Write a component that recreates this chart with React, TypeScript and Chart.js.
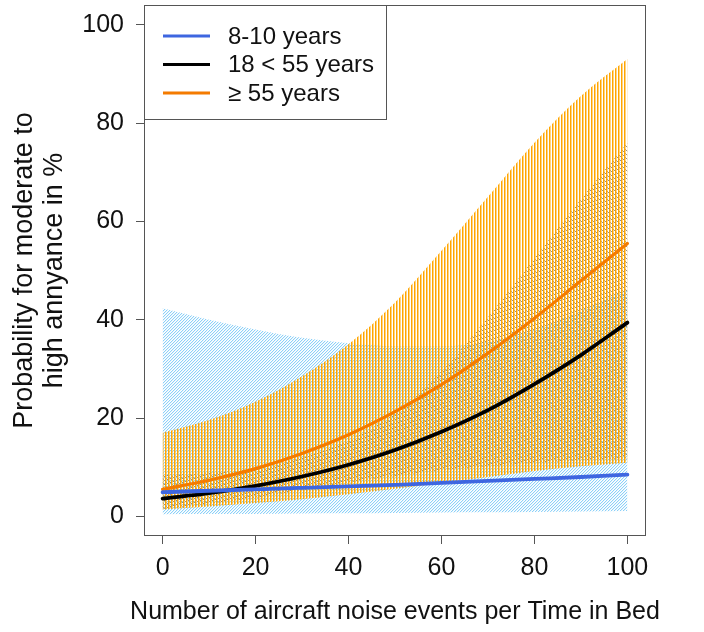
import React, { useEffect, useRef } from "react";
import { Chart, registerables } from "chart.js";

Chart.register(...registerables);

// ---------- data ----------
const X_VALUES = [0, 10, 20, 30, 40, 50, 60, 70, 80, 90, 100];

const BLUE_MEAN = [4.9, 5.2, 5.5, 5.8, 6.1, 6.4, 6.8, 7.2, 7.6, 8.0, 8.5];
const BLUE_UPPER = [42.3, 40.0, 38.0, 36.3, 35.2, 34.6, 34.6, 35.5, 38.0, 41.8, 46.3];
const BLUE_LOWER = [0.4, 0.45, 0.5, 0.6, 0.65, 0.7, 0.8, 0.85, 0.9, 1.0, 1.1];

const BLACK_MEAN = [3.6, 4.7, 6.2, 8.1, 10.5, 13.5, 17.2, 21.6, 26.9, 32.8, 39.4];
const BLACK_UPPER = [8.4, 8.8, 9.8, 12.0, 15.4, 21.0, 29.5, 40.5, 52.5, 64.5, 76.0];
const BLACK_LOWER = [1.5, 2.6, 3.8, 5.3, 6.9, 8.2, 9.4, 10.2, 10.9, 11.4, 11.8];

const ORANGE_MEAN = [5.5, 7.35, 9.7, 12.8, 16.6, 21.3, 26.8, 33.2, 40.3, 47.9, 55.5];
const ORANGE_UPPER = [17.0, 19.6, 23.3, 28.5, 35.0, 43.5, 54.0, 65.0, 76.0, 85.5, 93.0];
const ORANGE_LOWER = [1.4, 2.0, 2.7, 3.5, 4.5, 5.6, 6.8, 8.0, 9.2, 10.2, 10.9];

const X_TICKS = [0, 20, 40, 60, 80, 100];
const Y_TICKS = [0, 20, 40, 60, 80, 100];
const LEGEND_LABELS = ["8-10 years", "18 < 55 years", "\u2265 55 years"];
const X_TITLE = "Number of aircraft noise events per Time in Bed";
const Y_TITLE = ["Probability for moderate to", "high annyance in %"];

// ---------- styles ----------
const FONT = "'Liberation Sans', Arial, Helvetica, sans-serif";
const BLUE = "#3E66E0";
const BLACK = "#000000";
const ORANGE = "#F47B00";
const FRAME = "#555555";
const TEXT = "#111111";

Chart.defaults.font.family = FONT;

type Px = [number, number, number, number, number, number];

function makePattern(w: number, h: number, pixels: Px[]): CanvasPattern | string {
  const tile = document.createElement("canvas");
  tile.width = w;
  tile.height = h;
  const tctx = tile.getContext("2d");
  if (!tctx) return "transparent";
  const img = tctx.createImageData(w, h);
  for (const [x, y, r, g, b, a] of pixels) {
    const i = (y * w + x) * 4;
    img.data[i] = r;
    img.data[i + 1] = g;
    img.data[i + 2] = b;
    img.data[i + 3] = a;
  }
  tctx.putImageData(img, 0, 0);
  const main = document.createElement("canvas").getContext("2d");
  return (main && main.createPattern(tile, "repeat")) || "transparent";
}

function bluePattern() {
  const px: Px[] = [];
  const n = 3;
  for (let i = 0; i < n; i++) {
    px.push([i, n - 1 - i, 140, 208, 248, 255]);
    px.push([i, (n - i) % n, 185, 228, 250, 90]);
  }
  return makePattern(n, n, px);
}

function greyPattern() {
  const px: Px[] = [];
  const n = 4;
  for (let i = 0; i < n; i++) {
    px.push([i, i, 140, 140, 140, 255]);
  }
  return makePattern(n, n, px);
}

function orangePattern() {
  const px: Px[] = [
    [0, 0, 255, 165, 0, 255],
    [1, 0, 255, 180, 40, 150],
  ];
  return makePattern(3, 1, px);
}

const pts = (vals: number[]) => X_VALUES.map((x, i) => ({ x, y: vals[i] }));

const meanLine = (label: string, vals: number[], color: string, width: number) => ({
  label,
  data: pts(vals),
  borderColor: color,
  backgroundColor: color,
  borderWidth: width,
  pointRadius: 0,
  fill: false,
  cubicInterpolationMode: "monotone" as const,
  borderCapStyle: "round" as const,
});

const bandUpper = (vals: number[], pattern: CanvasPattern | string) => ({
  label: "",
  data: pts(vals),
  borderColor: "rgba(0,0,0,0)",
  borderWidth: 1,
  backgroundColor: pattern,
  pointRadius: 0,
  fill: "+1",
  cubicInterpolationMode: "monotone" as const,
});

const bandLower = (vals: number[]) => ({
  label: "",
  data: pts(vals),
  borderColor: "rgba(0,0,0,0)",
  borderWidth: 1,
  backgroundColor: "rgba(0,0,0,0)",
  pointRadius: 0,
  fill: false,
  cubicInterpolationMode: "monotone" as const,
});

const frameLegendPlugin = {
  id: "frameLegend",
  afterDraw(chart: any) {
    const { ctx, chartArea } = chart;
    const { left, top, right, bottom } = chartArea;
    ctx.save();
    ctx.strokeStyle = FRAME;
    ctx.lineWidth = 1;
    ctx.strokeRect(left + 0.5, top + 0.5, right - left - 1, bottom - top - 1);

    // x-axis title (drawn without width clamp)
    ctx.font = `25px ${FONT}`;
    ctx.fillStyle = TEXT;
    ctx.textAlign = "center";
    ctx.textBaseline = "middle";
    ctx.fillText(X_TITLE, (left + right) / 2, chart.height - 20);

    // legend box
    const lw = 242;
    const lh = 114;
    ctx.fillStyle = "#ffffff";
    ctx.fillRect(left, top, lw, lh);
    ctx.strokeRect(left + 0.5, top + 0.5, lw, lh);

    const colors = [BLUE, BLACK, ORANGE];
    const rowY = [31, 59.5, 88];
    ctx.font = `24px ${FONT}`;
    ctx.textBaseline = "middle";
    ctx.textAlign = "left";
    LEGEND_LABELS.forEach((lab, i) => {
      const y = top + rowY[i];
      ctx.strokeStyle = colors[i];
      ctx.lineWidth = 3;
      ctx.beginPath();
      ctx.moveTo(left + 19, y);
      ctx.lineTo(left + 66, y);
      ctx.stroke();
      ctx.fillStyle = TEXT;
      ctx.fillText(lab, left + 84, y + 1);
    });
    ctx.restore();
  },
};

export default function App() {
  const ref = useRef<HTMLCanvasElement>(null);

  useEffect(() => {
    document.body.style.margin = "0";
    const canvas = ref.current;
    if (!canvas) return;

    const datasets: any[] = [
      meanLine(LEGEND_LABELS[0], BLUE_MEAN, BLUE, 3.8),
      meanLine(LEGEND_LABELS[1], BLACK_MEAN, BLACK, 3.8),
      meanLine(LEGEND_LABELS[2], ORANGE_MEAN, ORANGE, 3.2),
      bandUpper(ORANGE_UPPER, orangePattern()),
      bandLower(ORANGE_LOWER),
      bandUpper(BLACK_UPPER, greyPattern()),
      bandLower(BLACK_LOWER),
      bandUpper(BLUE_UPPER, bluePattern()),
      bandLower(BLUE_LOWER),
    ];

    const gridOpts = {
      display: true,
      drawOnChartArea: false,
      drawTicks: true,
      tickLength: 8,
      color: FRAME,
      lineWidth: 1,
    };

    const chart = new Chart(canvas, {
      type: "line",
      data: { datasets },
      plugins: [frameLegendPlugin],
      options: {
        responsive: false,
        animation: false,
        devicePixelRatio: 1,
        layout: { padding: { left: 0, top: 5, right: 58, bottom: 0 } },
        plugins: {
          legend: { display: false },
          tooltip: { enabled: false },
        },
        scales: {
          x: {
            type: "linear",
            min: -4,
            max: 104,
            afterBuildTicks: (s: any) => {
              s.ticks = X_TICKS.map((v) => ({ value: v }));
            },
            afterFit: (s: any) => {
              s.height = 96;
              s.paddingLeft = 0;
              s.paddingRight = 0;
            },
            grid: gridOpts,
            border: { display: false },
            ticks: { font: { size: 25 }, color: TEXT, padding: 9, maxRotation: 0, autoSkip: false },
            title: { display: false },
          },
          y: {
            type: "linear",
            min: -4,
            max: 104,
            afterBuildTicks: (s: any) => {
              s.ticks = Y_TICKS.map((v) => ({ value: v }));
            },
            afterFit: (s: any) => {
              s.width = 144;
              s.paddingTop = 0;
              s.paddingBottom = 0;
            },
            grid: gridOpts,
            border: { display: false },
            ticks: { font: { size: 25 }, color: TEXT, padding: 12, autoSkip: false },
            title: {
              display: true,
              text: Y_TITLE,
              font: { size: 27, lineHeight: "30px" },
              color: TEXT,
              padding: { top: 10, bottom: 0 },
            },
          },
        },
      } as any,
    });
    return () => chart.destroy();
  }, []);

  return (
    <canvas
      ref={ref}
      width={704}
      height={632}
      style={{ display: "block", width: 704, height: 632 }}
    />
  );
}
